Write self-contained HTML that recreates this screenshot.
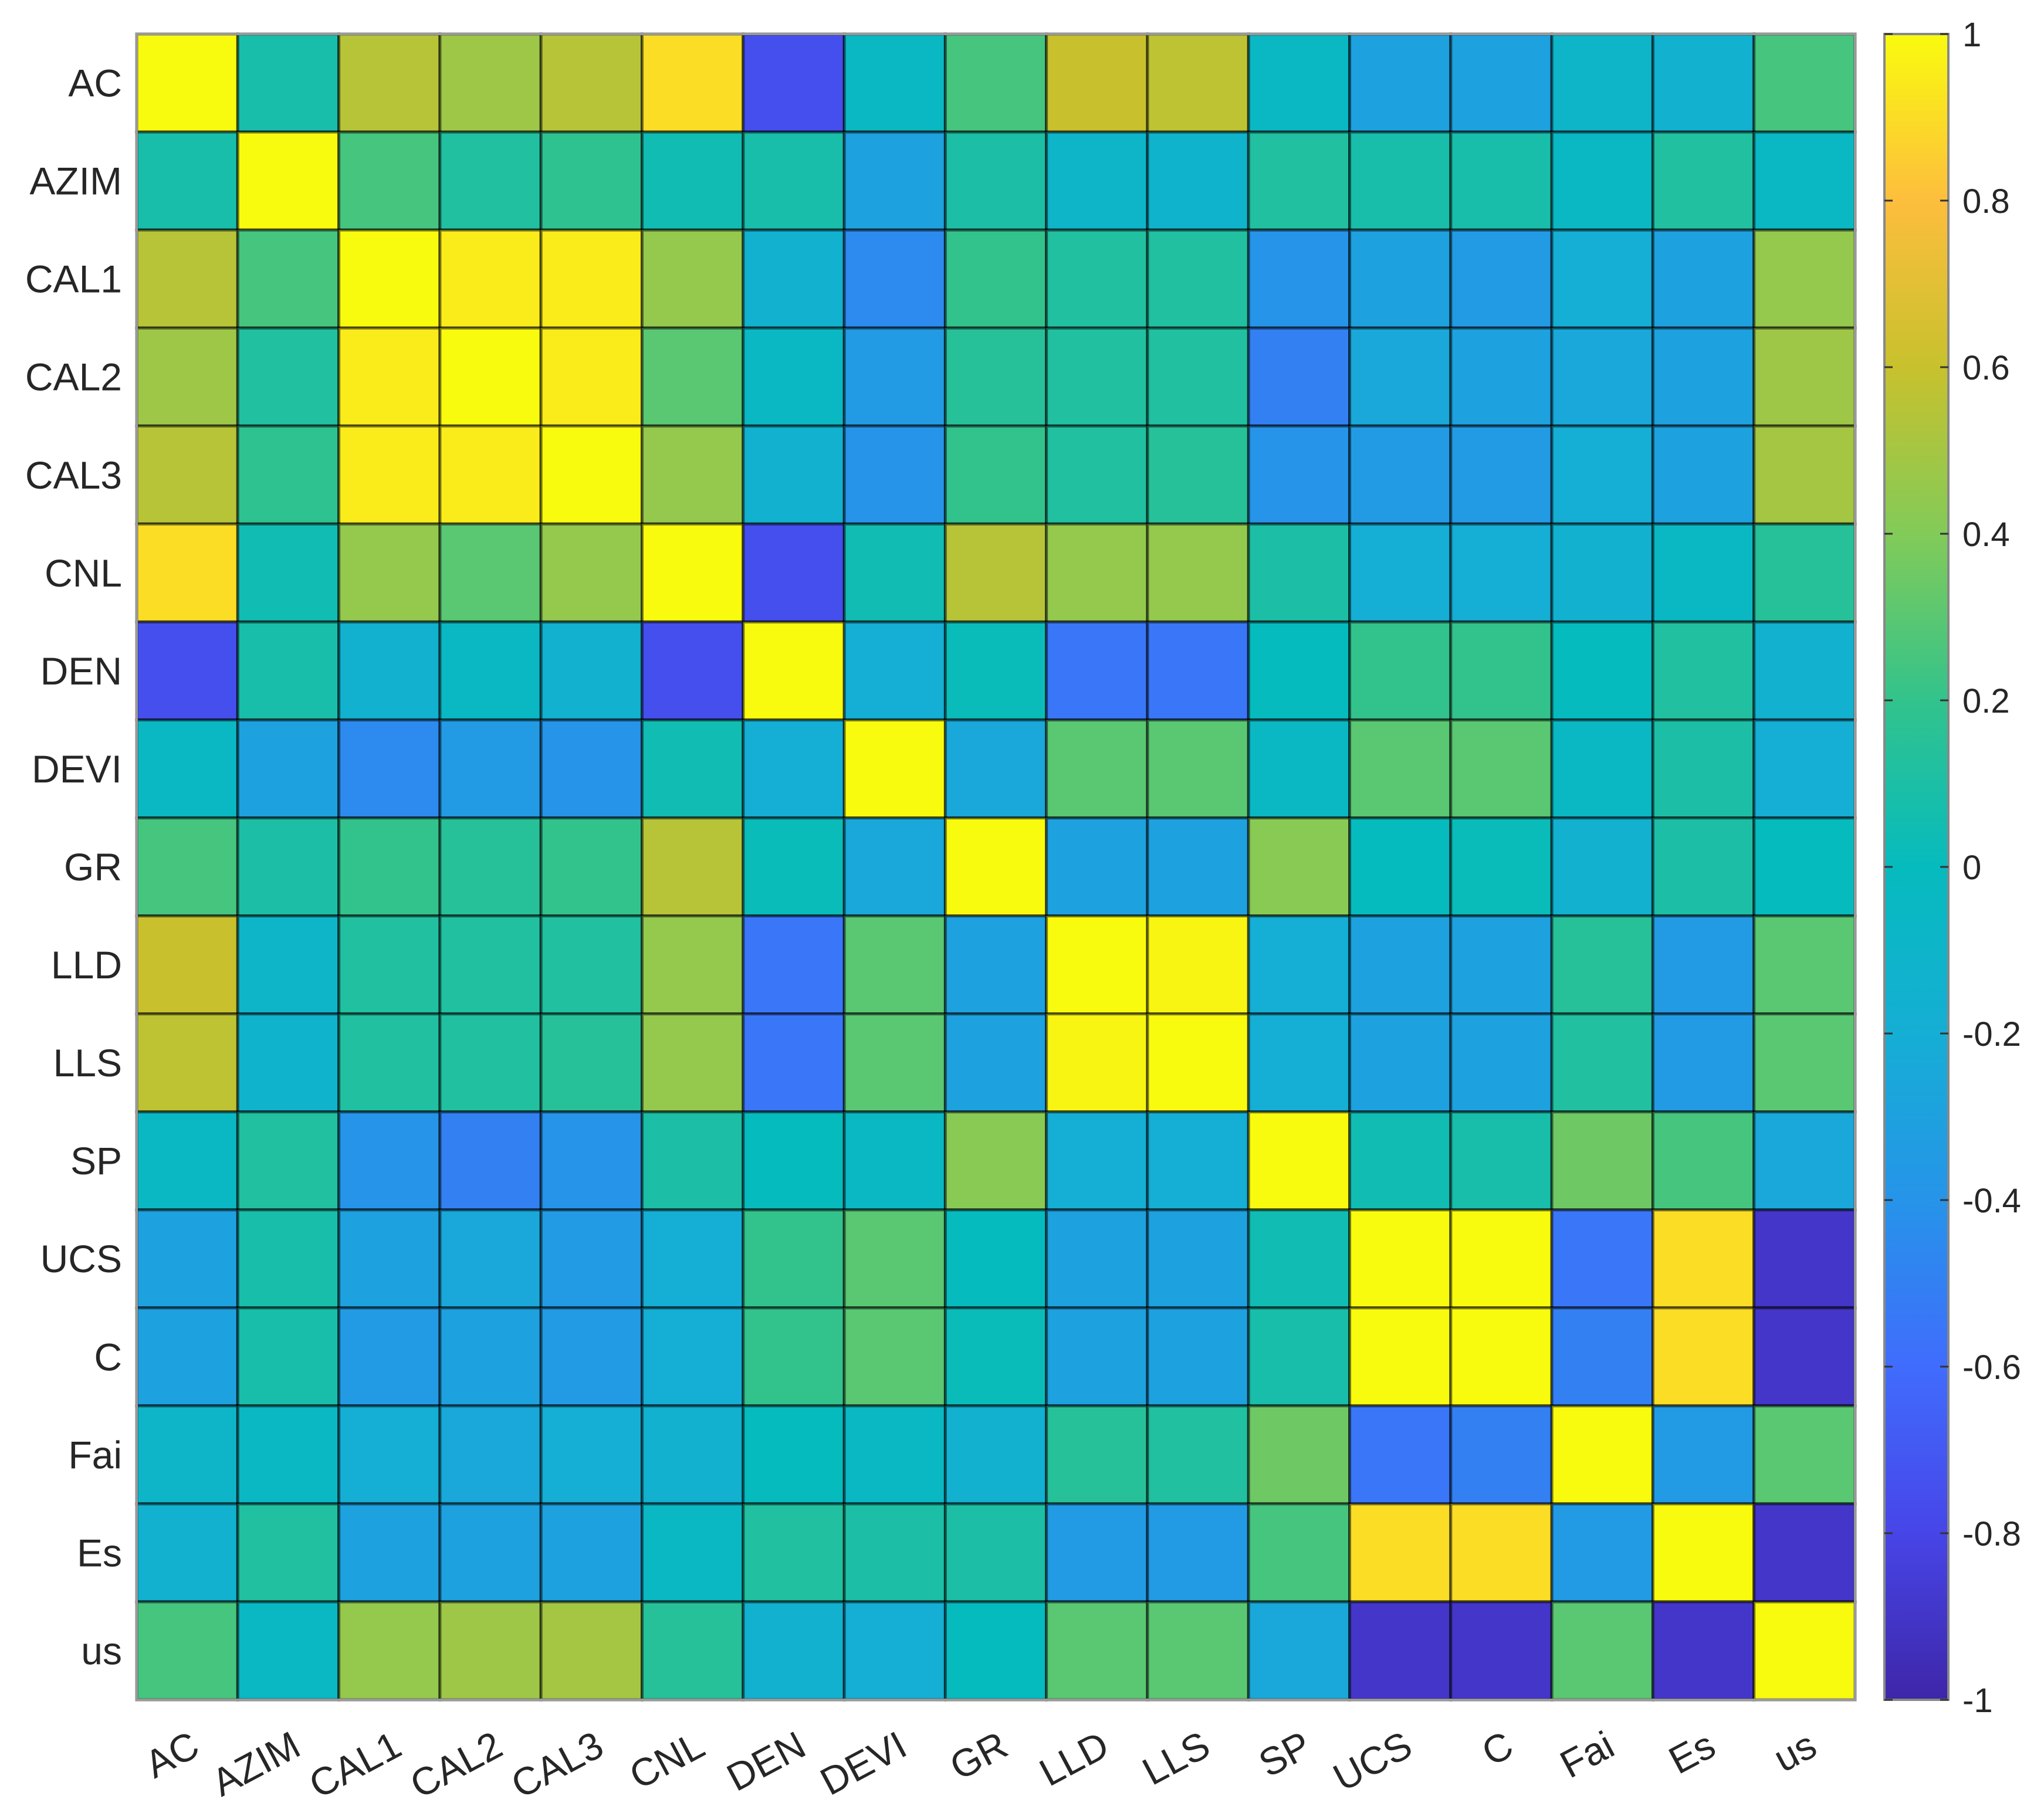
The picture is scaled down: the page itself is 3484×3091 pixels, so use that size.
<!DOCTYPE html>
<html><head><meta charset="utf-8"><style>
html,body{margin:0;padding:0;background:#fff;}
svg{display:block;font-family:"Liberation Sans",Arial,sans-serif;}
</style></head><body>
<svg id="chart" width="3484" height="3091" viewBox="0 0 3484 3091" xmlns="http://www.w3.org/2000/svg">
<defs>
<linearGradient id="cbgrad" x1="0" y1="1" x2="0" y2="0">
<stop offset="0" stop-color="rgb(62,38,168)"/>
<stop offset="0.1" stop-color="rgb(71,69,231)"/>
<stop offset="0.2" stop-color="rgb(64,108,253)"/>
<stop offset="0.3" stop-color="rgb(38,148,233)"/>
<stop offset="0.4" stop-color="rgb(21,174,212)"/>
<stop offset="0.5" stop-color="rgb(6,187,190)"/>
<stop offset="0.6" stop-color="rgb(50,195,140)"/>
<stop offset="0.7" stop-color="rgb(130,203,88)"/>
<stop offset="0.8" stop-color="rgb(200,193,45)"/>
<stop offset="0.9" stop-color="rgb(253,190,61)"/>
<stop offset="1" stop-color="rgb(249,251,14)"/>
</linearGradient>
</defs>
<g id="cells"></g>
<g id="labels"></g>
<g id="cbar"></g>
</svg>
<script>
const categories = ["AC","AZIM","CAL1","CAL2","CAL3","CNL","DEN","DEVI","GR","LLD","LLS","SP","UCS","C","Fai","Es","us"];
const rowAC   = [1,0.08,0.55,0.48,0.55,0.9,-0.75,-0.05,0.25,0.6,0.57,-0.05,-0.3,-0.3,-0.1,-0.15,0.25];
const rowAZIM = [0.08,1,0.25,0.12,0.18,0.05,0.08,-0.3,0.1,-0.1,-0.12,0.12,0.08,0.08,-0.05,0.12,-0.05];
const rowCAL1 = [0.55,0.25,1,0.95,0.95,0.45,-0.15,-0.45,0.2,0.12,0.12,-0.4,-0.3,-0.35,-0.2,-0.3,0.45];
const rowCAL2 = [0.48,0.12,0.95,1,0.95,0.3,-0.05,-0.35,0.15,0.12,0.12,-0.5,-0.25,-0.3,-0.25,-0.3,0.48];
const rowCAL3 = [0.55,0.18,0.95,0.95,1,0.45,-0.15,-0.4,0.2,0.12,0.15,-0.4,-0.35,-0.35,-0.2,-0.3,0.5];
const rowCNL  = [0.9,0.05,0.45,0.3,0.45,1,-0.75,0.05,0.55,0.45,0.45,0.1,-0.2,-0.2,-0.15,-0.05,0.15];
const rowDEN  = [-0.75,0.08,-0.15,-0.05,-0.15,-0.75,1,-0.2,0.02,-0.55,-0.55,0,0.2,0.2,0,0.12,-0.15];
const rowDEVI = [-0.05,-0.3,-0.45,-0.35,-0.4,0.05,-0.2,1,-0.25,0.3,0.3,-0.05,0.3,0.3,-0.05,0.1,-0.2];
const rowGR   = [0.25,0.1,0.2,0.15,0.2,0.55,0.02,-0.25,1,-0.3,-0.3,0.42,0,0.02,-0.15,0.1,0];
const rowLLD  = [0.6,-0.1,0.12,0.12,0.12,0.45,-0.55,0.3,-0.3,1,0.98,-0.2,-0.3,-0.3,0.15,-0.35,0.3];
const rowLLS  = [0.57,-0.12,0.12,0.12,0.15,0.45,-0.55,0.3,-0.3,0.98,1,-0.2,-0.3,-0.3,0.12,-0.35,0.3];
const rowSP   = [-0.05,0.12,-0.4,-0.5,-0.4,0.1,0,-0.05,0.42,-0.2,-0.2,1,0.05,0.08,0.35,0.25,-0.25];
const rowUCS  = [-0.3,0.08,-0.3,-0.25,-0.35,-0.2,0.2,0.3,0,-0.3,-0.3,0.05,1,1,-0.55,0.9,-0.9];
const rowC    = [-0.3,0.08,-0.35,-0.3,-0.35,-0.2,0.2,0.3,0.02,-0.3,-0.3,0.08,1,1,-0.5,0.9,-0.9];
const rowFai  = [-0.1,-0.05,-0.2,-0.25,-0.2,-0.15,0,-0.05,-0.15,0.15,0.12,0.35,-0.55,-0.5,1,-0.35,0.3];
const rowEs   = [-0.15,0.12,-0.3,-0.3,-0.3,-0.05,0.12,0.1,0.1,-0.35,-0.35,0.25,0.9,0.9,-0.35,1,-0.9];
const rowUs   = [0.25,-0.05,0.45,0.48,0.5,0.15,-0.15,-0.2,0,0.3,0.3,-0.25,-0.9,-0.9,0.3,-0.9,1];
const matrix = [rowAC,rowAZIM,rowCAL1,rowCAL2,rowCAL3,rowCNL,rowDEN,rowDEVI,rowGR,rowLLD,rowLLS,rowSP,rowUCS,rowC,rowFai,rowEs,rowUs];
const cbTicks = [1,0.8,0.6,0.4,0.2,0,-0.2,-0.4,-0.6,-0.8,-1];
const cbTickLabels = ["1","0.8","0.6","0.4","0.2","0","-0.2","-0.4","-0.6","-0.8","-1"];

const NS="http://www.w3.org/2000/svg";
const L=233,R=3162,T=58,B=2898;
const n=categories.length, cw=(R-L)/n, ch=(B-T)/n;
const xPos=i=>L+i*cw, yPos=i=>T+i*ch;
const CB={x0:3212,x1:3321,t:T,b:B};
const cbY=v=>CB.b-(v+1)/2*(CB.b-CB.t);
const stops=[[62,38,168],[71,69,231],[64,108,253],[38,148,233],[21,174,212],[6,187,190],[50,195,140],[130,203,88],[200,193,45],[253,190,61],[249,251,14]];
function color(v){
  let t=Math.max(0,Math.min(1,(v+1)/2))*10;
  let i=Math.min(9,Math.floor(t)), f=t-i;
  const a=stops[i],b=stops[i+1];
  return `rgb(${a.map((c,k)=>Math.round(c+(b[k]-c)*f)).join(',')})`;
}
function mk(tag,attrs,parent){const e=document.createElementNS(NS,tag);for(const k in attrs)e.setAttribute(k,attrs[k]);parent.appendChild(e);return e;}
const gc=document.getElementById('cells'), gl=document.getElementById('labels'), gb=document.getElementById('cbar');
matrix.forEach((row,r)=>row.forEach((v,c)=>{
  const rc=mk('rect',{x:xPos(c),y:yPos(r),width:cw,height:ch,fill:color(v),stroke:'rgba(0,0,0,0.5)','stroke-width':5},gc);
  
  
}));
mk('rect',{x:L,y:T,width:R-L,height:B-T,fill:'none',stroke:'#999','stroke-width':4},gc);
categories.forEach((c,i)=>{
  const ty=mk('text',{x:208,y:yPos(i)+ch/2+23,'text-anchor':'end','font-size':66,fill:'#262626'},gl);
  ty.textContent=c;
  
  
  const cx=xPos(i)+cw/2+25, cy=2990;
  const tx=mk('text',{x:cx,y:cy,'text-anchor':'end','font-size':66,fill:'#262626',transform:`rotate(-28 ${cx} ${cy})`},gl);
  tx.textContent=c;
  
  
});
const cbr=mk('rect',{x:CB.x0,y:CB.t,width:CB.x1-CB.x0,height:CB.b-CB.t,fill:'url(#cbgrad)',stroke:'#888','stroke-width':4},gb);


cbTicks.forEach((v,i)=>{
  const y=cbY(v);
  mk('line',{x1:CB.x0,x2:CB.x0+14,y1:y,y2:y,stroke:'#333','stroke-width':3},gb);
  mk('line',{x1:CB.x1-14,x2:CB.x1,y1:y,y2:y,stroke:'#333','stroke-width':3},gb);
  const t=mk('text',{x:CB.x1+24,y:y+21,'font-size':58,fill:'#262626'},gb);
  t.textContent=cbTickLabels[i];
  
  
});
</script>
</body></html>
